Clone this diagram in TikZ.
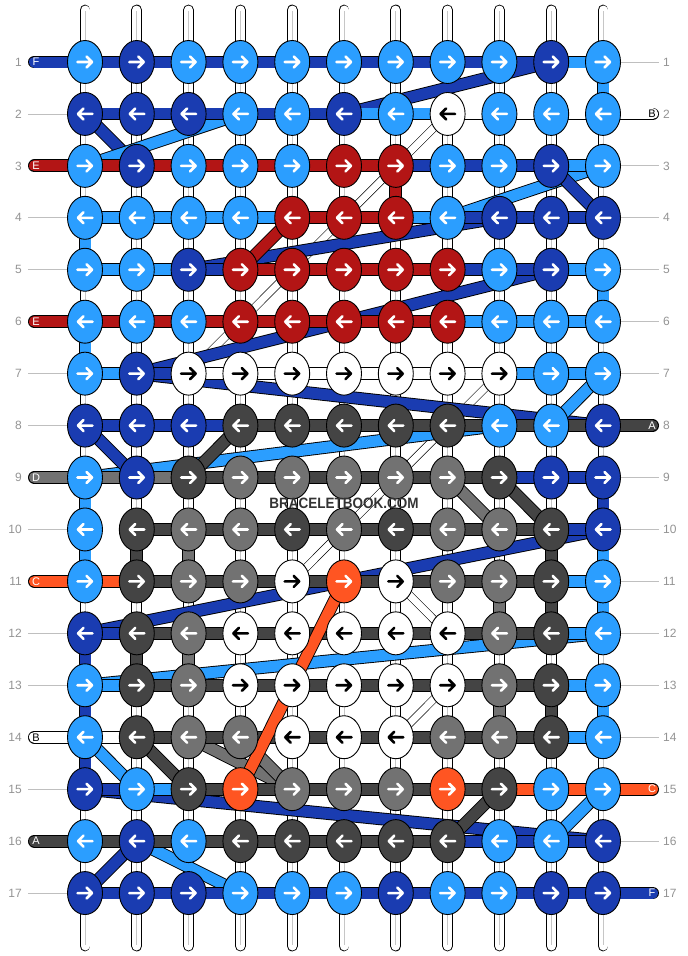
\documentclass[tikz,border=0pt]{standalone}
\usepackage{fontspec}
\setmainfont{Liberation Sans}
\usetikzlibrary{shapes.geometric,backgrounds}

\definecolor{cL}{HTML}{2B9EFF}
\definecolor{cD}{HTML}{1A3CB1}
\definecolor{cR}{HTML}{B31515}
\definecolor{cK}{HTML}{444444}
\definecolor{cG}{HTML}{727272}
\definecolor{cO}{HTML}{FF5522}
\definecolor{cW}{HTML}{FFFFFF}
\colorlet{aL}{white}
\colorlet{aD}{white}
\colorlet{aR}{white}
\colorlet{aK}{white}
\colorlet{aG}{white}
\colorlet{aO}{white}
\colorlet{aW}{black}

\begin{document}
\begin{tikzpicture}[x=1pt, y=-1pt,
    knot/.style={ellipse, draw=black, line width=0.9pt, minimum width=35pt,
      minimum height=43pt, inner sep=0pt},
    strand/.style={draw=black, line width=0.9pt, double=#1, double distance=11pt},
    post/.style={draw=black, line width=0.9pt, double=white, double distance=9pt},
    thread/.style={draw=gray!45, line width=0.8pt},
    band/.style={draw=black, line width=0.6pt, double=white, double distance=7pt},
    guide/.style={draw=gray!50, line width=0.8pt},
    rownum/.style={text=gray!85, font=\fontsize{12}{12}\selectfont, inner sep=0pt},
    tag/.style={font=\fontsize{11}{11}\selectfont, inner sep=0pt},
    glyph/.style={draw=#1, line width=2.6pt, line cap=round, line join=round}
  ]
\useasboundingbox (0,0) rectangle (688,956);

% knots, one line per row
\foreach \row [count=\r] in {
    {L,D,L,L,L,L,L,L,L,D,L},
    {D,D,D,L,L,D,L,W,L,L,L},
    {L,D,L,L,L,R,R,L,L,D,L},
    {L,L,L,L,R,R,R,L,D,D,D},
    {L,L,D,R,R,R,R,R,L,D,L},
    {L,L,L,R,R,R,R,R,L,L,L},
    {L,D,W,W,W,W,W,W,W,L,L},
    {D,D,D,K,K,K,K,K,L,L,D},
    {L,D,K,G,G,G,G,G,K,D,D},
    {L,K,G,G,K,G,K,G,G,K,D},
    {L,K,G,G,W,O,W,G,G,K,L},
    {D,K,G,W,W,W,W,W,G,K,L},
    {L,K,G,W,W,W,W,W,G,K,L},
    {L,K,G,G,W,W,W,G,G,K,L},
    {D,L,K,O,G,G,G,O,K,L,L},
    {L,D,L,K,K,K,K,K,L,L,D},
    {D,D,D,L,L,L,D,L,L,D,D}}{
  \pgfmathsetmacro\dir{2*mod(\r,2)-1}
  \foreach \col [count=\c] in \row {
    \node[knot, fill=c\col] (k\r-\c) at ({85+(\c-1)*51.8},{62+(\r-1)*51.94}) {};
    \draw[glyph=a\col, shift={(k\r-\c.center)}, xscale=\dir]
      (-7.5,0) -- (7,0) (1.5,-5.5) -- (7,0) -- (1.5,5.5);
  }
}

% row numbers
\foreach \r in {1,...,17}{
  \coordinate (lft\r) at (28,{62+(\r-1)*51.94});
  \coordinate (rgt\r) at (659,{62+(\r-1)*51.94});
  \node[rownum, anchor=east] (nl\r) at (22,{62+(\r-1)*51.94}) {\r};
  \node[rownum, anchor=west] (nr\r) at (663,{62+(\r-1)*51.94}) {\r};
}

\begin{scope}[on background layer]
  % posts
  \foreach \c in {1,...,11}{
    \coordinate (top\c) at ({85+(\c-1)*51.8},10);
    \coordinate (bot\c) at ({85+(\c-1)*51.8},946);
    \draw[post, line cap=round] (k1-\c.center) -- (top\c);
    \draw[thread, shorten >=1pt] (k1-\c.center) -- (top\c);
    \draw[post, line cap=round] (k17-\c.center) -- (bot\c);
    \draw[thread, shorten >=1pt] (k17-\c.center) -- (bot\c);
  }
  % white links between rows
  \foreach \r in {1,...,16}{
    \pgfmathtruncatemacro\rn{\r+1}
    \foreach \c in {1,...,11}{
      \draw[post] (k\r-\c.center) -- (k\rn-\c.center);
      \draw[thread] (k\r-\c.center) -- (k\rn-\c.center);
    }
  }
  % coloured links
  \foreach \r/\c/\clr in {1/11/L, 3/7/R, 4/1/L, 5/8/R, 5/11/L, 6/1/L, 9/1/L,
      9/11/D, 10/1/L, 10/2/K, 10/3/G, 10/10/K, 10/11/L, 11/9/G, 11/10/K,
      11/11/L, 12/1/D, 12/2/K, 12/3/G, 13/1/D, 13/9/G, 13/10/K, 13/11/L, 14/1/D}{
    \pgfmathtruncatemacro\rn{\r+1}
    \draw[strand=c\clr] (k\r-\c.center) -- (k\rn-\c.center);
  }
  % white strings carried across
  \foreach \a/\bb in {2-8/7-3, 7-9/11-5, 11-7/12-8, 13-8/14-7}
    \draw[band] (k\a.center) -- (k\bb.center);
  % coloured strings carried across
  \foreach \a/\bb/\clr in {1-10/2-6/D, 2-1/3-2/D, 2-4/3-1/L, 3-11/4-8/L,
      3-10/4-11/D, 4-9/5-3/D, 4-5/5-4/R, 5-10/7-2/D, 7-2/8-11/D, 7-11/8-10/L,
      8-9/9-1/L, 8-1/9-2/D, 8-4/9-3/K, 9-8/10-9/G, 9-9/10-10/K, 10-11/12-1/D,
      12-11/13-1/L, 14-1/15-2/L, 14-2/15-3/K, 14-3/15-5/G,
      14-4/15-5/G, 15-1/16-11/D, 15-9/16-8/K, 15-11/16-10/L, 16-2/17-1/D,
      16-2/17-4/L}
    \draw[strand=c\clr] (k\a.center) -- (k\bb.center);
  % rows (N = no string)
  \foreach \row [count=\r] in {
      {D,D,D,D,D,D,D,D,D,L},
      {D,D,D,D,D,L,L,W,W,W},
      {R,R,R,R,R,R,D,D,D,L},
      {L,L,L,L,R,R,L,D,D,D},
      {L,L,D,R,R,R,R,D,D,L},
      {R,R,R,R,R,R,R,L,L,L},
      {L,D,W,W,W,W,W,W,L,L},
      {D,D,D,K,K,K,K,K,K,K},
      {G,G,K,K,K,K,K,K,D,D},
      {N,K,K,K,K,K,K,K,K,D},
      {O,K,K,K,K,K,K,K,K,L},
      {D,K,K,K,K,K,K,K,K,L},
      {L,K,K,K,K,K,K,K,K,L},
      {W,K,K,K,K,K,K,K,K,L},
      {D,L,K,K,K,K,K,K,O,O},
      {K,K,K,K,K,K,K,D,D,D},
      {D,D,D,D,D,D,D,D,D,D}}{
    \foreach \bc [count=\c] in \row {
      \if\bc N\else
        \pgfmathtruncatemacro\cn{\c+1}
        \draw[strand=c\bc] (k\r-\c.center) -- (k\r-\cn.center);
      \fi
    }
  }
  % orange string lies over the rows it crosses
  \draw[strand=cO] (k11-6.center) -- (k15-4.center);
  % loose ends
  \foreach \r/\clr in {1/D, 3/R, 6/R, 9/G, 11/O, 14/W, 16/K}
    \draw[strand=c\clr, line cap=round, shorten >=6.4pt] (k\r-1.center) -- (lft\r);
  \foreach \r/\clr in {2/W, 8/K, 15/O, 17/D}
    \draw[strand=c\clr, line cap=round, shorten >=6.4pt] (k\r-11.center) -- (rgt\r);
  \foreach \r in {2,4,5,7,8,10,12,13,15,17}
    \draw[guide] (lft\r) -- (k\r-1);
  \foreach \r in {1,3,4,5,6,7,9,10,11,12,13,14,16}
    \draw[guide] (k\r-11) -- (rgt\r);
\end{scope}

% string letters
\foreach \r/\clr/\lab in {1/D/F, 3/R/E, 6/R/E, 9/G/D, 11/O/C, 14/W/B, 16/K/A}
  \node[tag, text=a\clr] (tl\r) at (36,{62+(\r-1)*51.94}) {\lab};
\foreach \r/\clr/\lab in {2/W/B, 8/K/A, 15/O/C, 17/D/F}
  \node[tag, text=a\clr] (tr\r) at (652,{62+(\r-1)*51.94}) {\lab};

\node[font=\bfseries\fontsize{15}{15}\selectfont, text=black!80, xscale=0.9]
  (brand) at (344,503) {BRACELETBOOK.COM};
\end{tikzpicture}
\end{document}
